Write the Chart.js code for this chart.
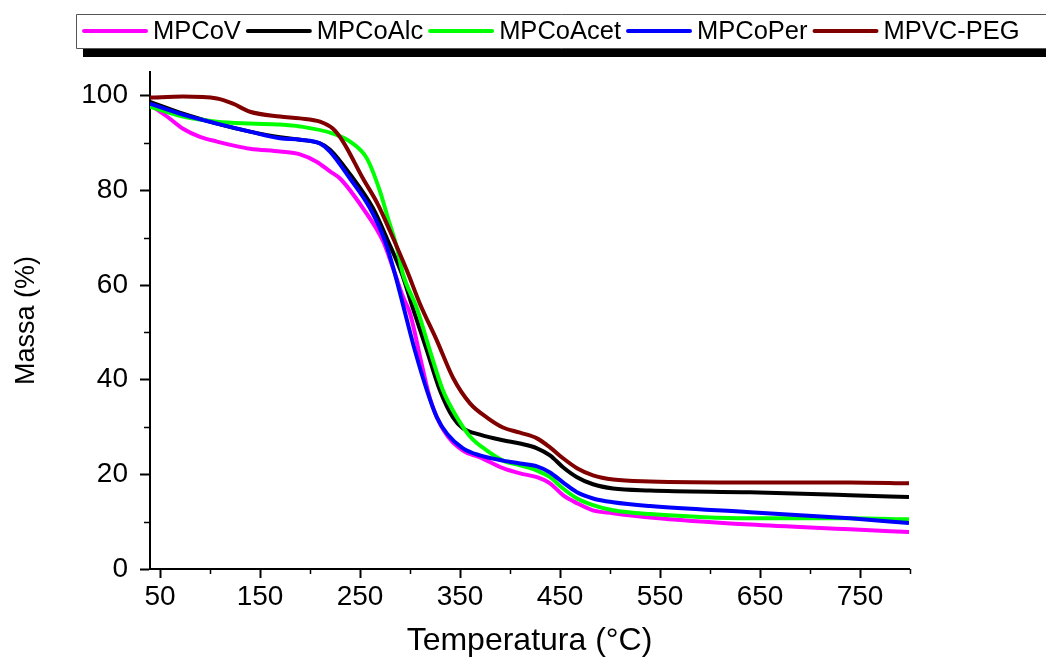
<!DOCTYPE html>
<html>
<head>
<meta charset="utf-8">
<script src="https://cdn.jsdelivr.net/npm/chart.js@4.4.0/dist/chart.umd.min.js"></script>
<style>
  body { margin: 0; background: #fff; }
  canvas { display: block; }
</style>
</head>
<body>
<canvas id="tgaChart" width="1046" height="660"></canvas>
<script>
// curvas TGA
var seriesNames = ['MPCoV', 'MPCoAlc', 'MPCoAcet', 'MPCoPer', 'MPVC-PEG'];
var seriesColors = ['#ff00ff', '#000000', '#00ff00', '#0000ff', '#800000'];

var tempMPCoV = [40, 57, 73, 90, 107, 125, 140, 170, 190, 207, 220, 230, 253, 273, 283, 293, 300, 312, 320, 333, 353, 370, 393, 410, 427, 440, 453, 467, 483, 503, 540, 640, 740, 799];
var massMPCoV = [98.1, 95.6, 93, 91.3, 90.3, 89.4, 88.8, 88.2, 87.6, 86, 84, 82.5, 76.2, 69.3, 63.6, 57.5, 54, 43, 36, 29.5, 25, 23.6, 21.3, 20.2, 19.4, 18.1, 15.6, 13.9, 12.4, 11.8, 10.9, 9.4, 8.4, 7.8];

var tempMPCoAlc = [40, 73, 107, 140, 170, 190, 210, 220, 240, 263, 278, 292, 303, 317, 330, 343, 353, 370, 393, 410, 427, 440, 453, 467, 483, 503, 540, 640, 740, 799];
var massMPCoAlc = [98.7, 96.2, 94.1, 92.4, 91.2, 90.7, 89.9, 88.6, 83.4, 76.2, 69.3, 62.3, 55, 46.1, 37.7, 32, 29.7, 28.4, 27.2, 26.5, 25.5, 24, 21.5, 19.4, 17.9, 17, 16.6, 16.2, 15.6, 15.2];

var tempMPCoAcet = [40, 73, 107, 140, 170, 190, 223, 240, 257, 270, 278, 287, 293, 307, 320, 333, 347, 360, 377, 393, 410, 427, 440, 453, 467, 483, 503, 540, 640, 740, 799];
var massMPCoAcet = [97.7, 95.6, 94.5, 94.1, 93.9, 93.5, 92, 90.3, 86.7, 79.8, 74.1, 67.8, 62.3, 55, 46.1, 37.7, 32, 28, 25, 22.9, 21.9, 20.8, 19.4, 17, 14.9, 13.5, 12.4, 11.6, 10.7, 10.7, 10.5];

var tempMPCoPer = [40, 73, 107, 140, 170, 190, 210, 220, 240, 260, 275, 285, 294, 305, 317, 327, 337, 353, 370, 393, 410, 427, 440, 453, 467, 483, 503, 540, 640, 740, 799];
var massMPCoPer = [98.3, 96, 94.1, 92.4, 91, 90.7, 89.9, 88.2, 82.5, 76.2, 69.3, 62.3, 55, 46.1, 37.7, 32, 28.6, 25.5, 24, 22.9, 22.3, 21.7, 20.4, 18.3, 16.2, 14.9, 14.1, 13.3, 12, 10.7, 9.7];

var tempMPVCPEG = [40, 73, 107, 123, 140, 170, 190, 210, 223, 233, 253, 268, 280, 297, 310, 327, 343, 360, 377, 393, 410, 427, 440, 453, 467, 483, 503, 540, 640, 740, 799];
var massMPVCPEG = [99.6, 99.8, 99.4, 98.3, 96.6, 95.6, 95.2, 94.5, 93, 90.3, 82.5, 77, 71.4, 63, 56, 48.2, 40.4, 35, 32, 29.9, 28.8, 27.6, 25.7, 23.4, 21.3, 19.8, 18.9, 18.5, 18.3, 18.3, 18.1];

var xTicks = [50, 150, 250, 350, 450, 550, 650, 750];
var xMinorTicks = [100, 200, 300, 400, 500, 600, 700, 800];
var yTicks = [0, 20, 40, 60, 80, 100];
var yMinorTicks = [10, 30, 50, 70, 90];

var temps = [tempMPCoV, tempMPCoAlc, tempMPCoAcet, tempMPCoPer, tempMPVCPEG];
var masses = [massMPCoV, massMPCoAlc, massMPCoAcet, massMPCoPer, massMPVCPEG];

var FONT = "'Liberation Sans', Arial, sans-serif";

var datasets = [];
for (var i = 0; i < seriesNames.length; i++) {
  var pts = [];
  for (var j = 0; j < temps[i].length; j++) {
    pts.push({ x: temps[i][j], y: masses[i][j] });
  }
  datasets.push({
    label: seriesNames[i],
    data: pts,
    borderColor: seriesColors[i],
    backgroundColor: seriesColors[i],
    borderWidth: 4,
    pointRadius: 0,
    cubicInterpolationMode: 'monotone',
    order: seriesNames.length - 1 - i
  });
}

// legenda com moldura e sombra, estilo Origin
var legendBox = {
  id: 'legendBox',
  afterDraw: function(chart) {
    var ctx = chart.ctx;
    ctx.save();
    ctx.fillStyle = '#000';
    ctx.fillRect(83, 49, 1046 - 83, 8);
    ctx.fillStyle = '#fff';
    ctx.fillRect(76, 14, 1046 - 76, 35);
    ctx.strokeStyle = '#555';
    ctx.lineWidth = 1;
    ctx.beginPath();
    ctx.moveTo(1046, 14.5);
    ctx.lineTo(76.5, 14.5);
    ctx.lineTo(76.5, 48.5);
    ctx.lineTo(1046, 48.5);
    ctx.stroke();

    ctx.font = '25.5px ' + FONT;
    ctx.textBaseline = 'middle';
    var x = 84;
    var y = 32;
    for (var i = 0; i < seriesNames.length; i++) {
      ctx.strokeStyle = seriesColors[i];
      ctx.lineWidth = 4;
      ctx.lineCap = 'round';
      ctx.beginPath();
      ctx.moveTo(x, y - 1);
      ctx.lineTo(x + 62, y - 1);
      ctx.stroke();
      x += 69;
      ctx.fillStyle = '#000';
      ctx.fillText(seriesNames[i], x, y);
      x += ctx.measureText(seriesNames[i]).width + 7;
    }
    ctx.restore();
  }
};

// tracinhos menores nos eixos
var minorTicks = {
  id: 'minorTicks',
  afterDraw: function(chart) {
    var ctx = chart.ctx;
    var xs = chart.scales.x, ys = chart.scales.y;
    var area = chart.chartArea;
    ctx.save();
    ctx.strokeStyle = '#000';
    ctx.lineWidth = 1.5;
    ctx.beginPath();
    xMinorTicks.forEach(function(v) {
      var px = Math.round(xs.getPixelForValue(v)) + 0.5;
      ctx.moveTo(px, area.bottom);
      ctx.lineTo(px, area.bottom + 5);
    });
    yMinorTicks.forEach(function(v) {
      var py = Math.round(ys.getPixelForValue(v)) + 0.5;
      ctx.moveTo(area.left - 6, py);
      ctx.lineTo(area.left, py);
    });
    ctx.stroke();
    ctx.restore();
  }
};

new Chart(document.getElementById('tgaChart').getContext('2d'), {
  type: 'line',
  data: { datasets: datasets },
  options: {
    responsive: false,
    animation: false,
    layout: { padding: { top: 72, right: 137, bottom: 0, left: 0 } },
    plugins: {
      legend: { display: false },
      tooltip: { enabled: false }
    },
    scales: {
      x: {
        type: 'linear',
        min: 40,
        max: 799,
        afterBuildTicks: function(scale) {
          scale.ticks = xTicks.map(function(v) { return { value: v }; });
        },
        afterFit: function(scale) { scale.height = 91; },
        grid: { drawOnChartArea: false, tickLength: 9, tickWidth: 2, tickColor: '#000' },
        border: { color: '#000', width: 2 },
        ticks: { color: '#000', font: { family: FONT, size: 28 }, padding: 2, maxRotation: 0 },
        title: {
          display: true,
          text: 'Temperatura (°C)',
          color: '#000',
          font: { family: FONT, size: 32 },
          padding: { top: 0, bottom: 0 }
        }
      },
      y: {
        min: 0,
        max: 105,
        afterBuildTicks: function(scale) {
          scale.ticks = yTicks.map(function(v) { return { value: v }; });
        },
        afterFit: function(scale) { scale.width = 150; },
        grid: { drawOnChartArea: false, tickLength: 10, tickWidth: 2, tickColor: '#000' },
        border: { color: '#000', width: 2 },
        ticks: { color: '#000', font: { family: FONT, size: 28 }, padding: 12 },
        title: {
          display: true,
          text: 'Massa (%)',
          color: '#000',
          font: { family: FONT, size: 27 },
          padding: { top: 10, bottom: 0 }
        }
      }
    }
  },
  plugins: [minorTicks, legendBox]
});
</script>
</body>
</html>
